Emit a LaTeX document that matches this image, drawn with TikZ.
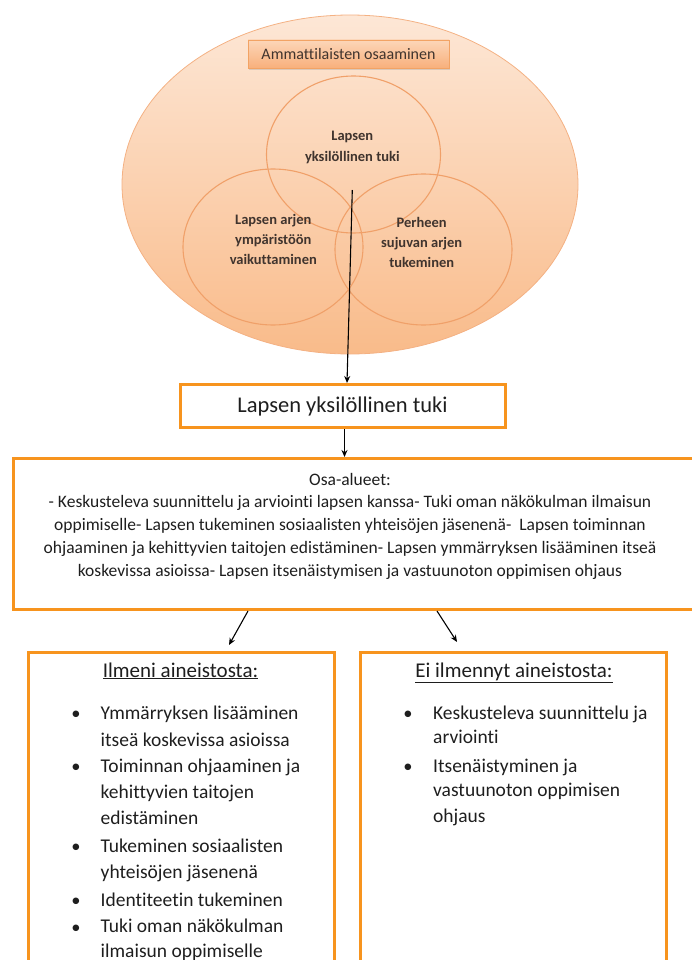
\documentclass[tikz,border=0pt]{standalone}
\usepackage{fontspec}
\setmainfont{Carlito}[Ligatures=CommonOff]
\usetikzlibrary{shapes.geometric,arrows.meta,shadows}

\definecolor{boxorange}{RGB}{247,148,30}
\definecolor{peachtop}{RGB}{253,231,214}
\definecolor{peachbot}{RGB}{249,187,138}
\definecolor{peachline}{RGB}{244,177,131}
\definecolor{ringline}{RGB}{240,160,105}
\definecolor{tabtop}{RGB}{252,214,184}
\definecolor{tabbot}{RGB}{248,176,124}
\definecolor{tabline}{RGB}{242,163,100}
\definecolor{labelgray}{RGB}{64,52,46}
\definecolor{bodytext}{RGB}{30,30,30}

\begin{document}
\begin{tikzpicture}[x=1pt,y=-1pt,
  areafill/.style={ellipse, draw=peachline, line width=0.8pt,
    top color=peachtop, bottom color=peachbot, inner sep=0pt},
  ringarea/.style={ellipse, draw=ringline, line width=1.1pt, inner sep=0pt},
  tabbox/.style={rectangle, draw=tabline, line width=0.8pt,
    top color=tabtop, bottom color=tabbot, inner sep=0pt,
    drop shadow={opacity=0.25, shadow xshift=1pt, shadow yshift=-2pt},
    font=\fontsize{16}{18}\selectfont, text=labelgray},
  vlabel/.style={anchor=base, inner sep=0pt, text=labelgray,
    font=\bfseries\fontsize{14.5}{18}\selectfont},
  obox/.style={rectangle, draw=boxorange, line width=3pt, inner sep=0pt},
  arr/.style={draw=black, line width=1.1pt, -{Stealth[length=7pt,width=6pt]}},
  osaline/.style={anchor=base, inner sep=0pt, text=bodytext, font=\fontsize{17.5}{20}\selectfont},
  listline/.style={anchor=base west, inner sep=0pt, text=bodytext, font=\fontsize{19.5}{24}\selectfont},
  bulletmark/.style={anchor=base, inner sep=0pt, text=bodytext, font=\fontsize{18.5}{20}\selectfont},
  headline/.style={anchor=base, inner sep=0pt, text=bodytext, font=\fontsize{21}{24}\selectfont}]

\useasboundingbox (0,0) rectangle (692,960);
\clip (0,0) rectangle (692,960);

% outer area with three overlapping areas
\node[areafill, minimum width=456pt, minimum height=339pt] (dom) at (350,184.5) {};
\node[tabbox, minimum width=201pt, minimum height=28pt] (tab) at (348.5,54) {Ammattilaisten osaaminen};
\node[ringarea, minimum width=174pt, minimum height=157pt] (cTop) at (353.5,154.5) {};
\node[ringarea, minimum width=180pt, minimum height=156pt] (cLeft) at (273,247) {};
\node[ringarea, minimum width=177pt, minimum height=151pt] (cRight) at (423.5,249.5) {};

\node[vlabel] (t1) at (352.3,141) {Lapsen};
\node[vlabel] (t2) at (352.3,161) {yksilöllinen tuki};
\node[vlabel] (l1) at (273.3,224) {Lapsen arjen};
\node[vlabel] (l2) at (273.3,244) {ympäristöön};
\node[vlabel] (l3) at (273.3,264) {vaikuttaminen};
\node[vlabel] (r1) at (421.7,227) {Perheen};
\node[vlabel] (r2) at (421.7,247) {sujuvan arjen};
\node[vlabel] (r3) at (421.7,267) {tukeminen};

% focus box
\node[obox, minimum width=325pt, minimum height=43pt, text=bodytext,
  font=\fontsize{22.5}{24}\selectfont] (lyt) at (342.5,406) {Lapsen yksilöllinen tuki};
\coordinate (src) at (352.3,190);
\draw[arr] (src) -- ([xshift=4.5pt]lyt.north);

% sub-areas box
\node[obox, anchor=north west, minimum width=690pt, minimum height=151pt] (osa) at (12,457) {};
\draw[arr] ([xshift=2pt]lyt.south) -- ([xshift=2pt]lyt.south |- osa.north);
\node[osaline] (o0) at (350,485) {Osa-alueet:};
\node[osaline] (o1) at (350,507.5) {- Keskusteleva suunnittelu ja arviointi lapsen kanssa- Tuki oman näkökulman ilmaisun};
\node[osaline] (o2) at (350,530.5) {oppimiselle- Lapsen tukeminen sosiaalisten yhteisöjen jäsenenä-~ Lapsen toiminnan};
\node[osaline] (o3) at (350,553) {ohjaaminen ja kehittyvien taitojen edistäminen- Lapsen ymmärryksen lisääminen itseä};
\node[osaline] (o4) at (350,576) {koskevissa asioissa- Lapsen itsenäistymisen ja vastuunoton oppimisen ohjaus};

% result boxes
\node[obox, anchor=north west, minimum width=306pt, minimum height=330pt] (ilm) at (27,651) {};
\node[obox, anchor=north west, minimum width=306pt, minimum height=330pt] (ei) at (359,651) {};

\coordinate (f1) at (248,0);
\coordinate (f2) at (437,0);
\coordinate (e1) at (229,645);
\coordinate (e2) at (457,642);
\draw[arr] (osa.south -| f1) -- (e1);
\draw[arr] (osa.south -| f2) -- (e2);

\node[headline] (hIlm) at (180.5,677) {\underline{Ilmeni aineistosta:}};
\node[headline] (hEi) at (514,677) {\underline{Ei ilmennyt aineistosta:}};

% found in the material
\foreach \n/\yy in {a/719, b/772, c/852, d/906, e/933}
  \node[bulletmark] (bl\n) at (76,\yy) {•};
\foreach \n/\yy/\txt in {
  1/719.5/Ymmärryksen lisääminen,
  2/746/itseä koskevissa asioissa,
  3/772.5/Toiminnan ohjaaminen ja,
  4/798.5/kehittyvien taitojen,
  5/824.5/edistäminen,
  6/852/Tukeminen sosiaalisten,
  7/878/yhteisöjen jäsenenä,
  8/906/Identiteetin tukeminen,
  9/932.5/Tuki oman näkökulman,
  10/957/ilmaisun oppimiselle}
  \node[listline] (li\n) at (100.5,\yy) {\txt};

% not found in the material
\foreach \n/\yy in {a/719, b/772}
  \node[bulletmark] (br\n) at (408,\yy) {•};
\foreach \n/\yy/\txt in {
  1/719.5/Keskusteleva suunnittelu ja,
  2/743.5/arviointi,
  3/772.5/Itsenäistyminen ja,
  4/796.5/vastuunoton oppimisen,
  5/822/ohjaus}
  \node[listline] (ri\n) at (433,\yy) {\txt};

\end{tikzpicture}
\end{document}
